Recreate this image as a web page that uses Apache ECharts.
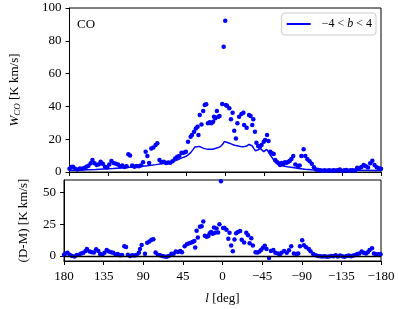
<!DOCTYPE html>
<html><head><meta charset="utf-8">
<script src="https://cdn.jsdelivr.net/npm/echarts@6/dist/echarts.min.js"></script>
<style>html,body{margin:0;padding:0;background:#fff}#c{width:398px;height:309px}</style>
</head><body><div id="c"></div>
<script>
// Top panel: observed W_CO points (longitude, value)
const topLon = [180,178,176,173.5,171,168,165.5,163,160.5,158,155.5,153.5,151,148.5,146,144,141.5,139,136.5,134,131.5,129,126.5,124,121.5,119,116.5,114,112,110,107.5,105,102.5,100,97.5,95,92,90,88,85.5,83,80.5,78.5,76,73.5,71,68.5,66,63.5,61,58,55.5,53,50.5,48,45.5,43,40,38.5,36,34,32,31,29.5,27.5,25.5,23.7,22,20,18,16,14,13,11.5,9.7,8,6.6,3.5,1.8,0,-0.7,-2,-4.7,-6.6,-8.5,-10.4,-12.3,-14,-16,-18.7,-21,-21.8,-24.7,-27.5,-29.3,-31.2,-32.4,-34.3,-36,-38,-40,-42,-44.5,-46,-48.3,-50,-52,-54,-56,-57.7,-59.6,-61.5,-63.4,-65,-67,-69,-71,-73,-74.7,-76.5,-78.6,-81,-84,-86,-88,-90.6,-92.5,-95,-97.5,-100,-102.5,-105,-107.5,-110,-112.5,-115,-117.5,-120,-122.5,-125,-127.5,-130,-132.5,-135,-137.5,-140,-142.5,-145,-147.5,-150,-152.5,-155,-157.5,-160,-162.5,-165,-167.5,-170,-172.5,-175,-177.5,-180];
const topW = [2.0,3.0,3.2,2.0,1.5,2.2,2.0,2.5,3.2,3.8,5.3,7.3,5.3,4.3,4.8,6.3,5.0,3.2,2.8,4.5,6.7,5.5,5.0,4.5,3.5,4.0,3.0,3.5,10.8,10.0,4.0,3.2,3.6,3.5,4.0,6.0,12.4,9.8,5.5,14.4,15.0,16.5,17.5,7.3,6.0,6.3,5.5,5.8,5.7,6.5,8.3,9.3,9.8,11.8,11.8,12.4,18.5,21.5,22.6,24.6,26.6,27.6,22.6,34.8,29.0,37.2,40.9,41.3,29.7,30.3,29.7,30.7,33.7,32.7,37.2,33.7,34.1,41.5,76.4,92.3,40.9,40.4,38.8,32.1,36.2,25.2,20.5,29.7,33.7,35.4,36.2,28.7,27.0,34.8,34.1,28.7,32.1,24.6,17.9,15.8,15.4,16.5,18.5,19.5,22.6,18.9,12.4,11.4,11.0,7.3,6.3,5.3,4.3,5.5,4.9,6.0,5.7,6.3,6.9,8.0,9.8,4.5,3.7,4.0,9.8,13.8,9.8,7.7,6.5,5.0,2.9,1.5,1.2,1.0,0.8,1.0,0.7,1.0,0.8,1.1,0.9,1.0,1.5,0.6,1.0,1.2,0.8,1.1,1.0,0.9,2.6,2.5,3.0,4.3,3.5,2.8,5.3,6.9,4.3,2.9,2.3,2.0];
// Top panel: model line
const modelLon = [180,170,160,150,140,130,120,110,100,90,80,70,60,55,50,45,42.5,40,37.5,35,33,30,27.5,25,22.5,20,17.5,15,12.5,10,7.5,5,2.5,1,0,-2.5,-5,-7.5,-10,-12.5,-15,-17.5,-20,-22.5,-25,-27.5,-29.3,-31,-33,-35,-37.5,-40.5,-42.5,-44.5,-46,-48,-50,-52,-54,-56,-58,-60,-63,-67,-72,-78,-85,-92,-100,-110,-130,-150,-180];
const modelW = [1.0,1.1,1.3,1.5,1.8,2.1,2.5,2.9,3.3,3.8,4.5,5.4,6.6,7.5,8.6,9.6,10.6,11.8,13.5,15.3,15.8,15.6,15.0,14.4,14.1,13.9,13.8,13.9,14.2,14.6,15.0,15.8,17.2,18.6,19.1,18.0,17.5,17.0,16.5,16.1,15.8,15.5,15.4,15.5,15.9,16.8,17.9,16.0,14.4,13.0,13.4,14.4,13.2,12.4,12.8,13.8,12.6,10.4,8.9,7.3,6.0,5.2,4.4,3.7,3.2,2.8,2.2,1.7,1.3,1.1,1.0,1.0,0.9];
// Bottom panel: data minus model
const dmLon = [180,178,176,173.5,171,168,165.5,163,160.5,158,155.5,154,151,148.5,146,143.5,141,139,136.5,134,131.5,129,126.5,124,121.5,119,116.5,114,111.5,109.5,107.5,105,102.5,100,97.5,95,93.7,91.8,88,85.5,83,80.6,78.5,76,73.5,71,68.5,66,63.5,61,58,55.5,53,50.5,48,46,43,40.5,38.5,36,34,32,31,29.4,28,25.7,23.7,21.8,20,18,16,14.5,13,11,9.7,8.5,6.7,5,3.5,1.8,-0.7,-2.2,-4.5,-6.6,-8,-9.8,-11.7,-13.6,-15.5,-17.5,-20,-21.8,-24.5,-27,-29,-30.8,-32.7,-34.5,-37.5,-39.6,-42,-44,-46,-48,-50,-52.8,-55,-57.7,-60,-63,-65,-67,-70,-73,-75.5,-78,-81,-84,-86,-88,-90.5,-92.5,-95,-98,-100,-103,-106,-108.5,-111,-113.5,-116,-118.5,-121,-123.5,-126,-128.5,-131,-133.5,-136,-138.5,-141,-143.5,-146,-148.5,-151,-153,-155.5,-158,-160.5,-163,-165,-167,-169.8,-172,-174.5,-177,-179.5];
const dmW = [1.0,2.0,2.5,1.0,0.0,-0.5,0.7,1.0,2.0,2.5,4.0,5.5,3.5,3.0,2.8,5.3,4.0,1.5,1.0,2.5,4.7,3.5,3.0,2.5,1.2,1.5,0.5,0.8,7.7,7.0,1.0,0.0,0.5,0.3,0.7,2.5,5.5,8.7,1.7,10.5,11.5,12.7,13.2,2.7,1.0,0.5,0.0,-0.5,-0.7,0.0,1.7,1.8,3.5,3.2,4.0,3.0,7.7,9.3,9.8,10.5,11.0,11.8,6.6,20.0,14.6,23.0,23.5,27.3,16.0,15.1,15.8,18.0,19.0,17.5,22.5,18.4,21.7,18.5,25.1,59.0,22.0,22.0,20.6,13.5,18.4,8.2,3.8,13.0,17.9,19.0,19.8,12.7,10.6,18.4,16.3,10.0,14.0,8.2,3.0,2.8,3.5,4.9,6.5,8.0,5.4,-1.7,3.9,4.7,2.5,2.0,0.7,2.5,3.9,2.5,4.5,7.6,2.0,1.5,2.0,7.6,12.3,8.5,6.9,5.5,3.7,1.6,0.5,0.0,-0.3,-0.5,-0.3,-0.7,-0.5,0.0,-0.3,0.5,-0.5,0.3,-0.3,-0.7,0.0,0.3,-0.2,0.3,0.8,1.6,2.0,3.5,2.5,2.0,3.0,4.7,6.0,2.0,1.3,1.3,1.3];
const xTicks = [180,135,90,45,0,-45,-90,-135,-180];
const topYTicks = [0,20,40,60,80,100];
const botYTicks = [0,25,50];

const pair = (a, b) => a.map((v, i) => [v, b[i]]);
const FONT = 'Liberation Serif';
const FS = 13;
const BLUE = '#0000ff';
const fmtMinus = v => (v < 0 ? '\u2212' + Math.abs(v) : String(v));

const chart = echarts.init(document.getElementById('c'), null, {renderer: 'canvas'});
const axisCommon = {
  axisLine: {show: true, onZero: false, lineStyle: {color: '#000', width: 1}},
  axisTick: {show: true, inside: false, length: 4, lineStyle: {color: '#000', width: 1}},
  splitLine: {show: false}
};
chart.setOption({
  animation: false,
  textStyle: {fontFamily: FONT},
  title: {text: 'CO', left: 72, top: 13, textStyle: {fontFamily: FONT, fontSize: FS, fontWeight: 'normal', color: '#000'}},
  legend: {
    data: [{name: 'model', icon: 'rect'}], right: 22, top: 13, orient: 'horizontal',
    itemWidth: 24, itemHeight: 2, itemGap: 4,
    padding: [5, 4, 5, 5], borderColor: '#cccccc', borderWidth: 1, borderRadius: 3, backgroundColor: '#fff',
    formatter: () => '{n|\u22124 < }{i|b}{n| < 4}',
    textStyle: {fontFamily: FONT, fontSize: 12, color: '#000', padding: [0, 0, 0, 6], rich: {n: {fontFamily: FONT, fontSize: 12}, i: {fontFamily: FONT, fontSize: 12, fontStyle: 'italic'}}}
  },
  grid: [
    {left: 64, right: 17, top: 8, height: 164, show: true, borderColor: '#000', borderWidth: 1, containLabel: false},
    {left: 64, right: 17, top: 180, height: 81, show: true, borderColor: '#000', borderWidth: 1, containLabel: false}
  ],
  xAxis: [
    Object.assign({}, axisCommon, {type: 'value', gridIndex: 0, min: -180, max: 180, interval: 45, inverse: true,
      axisLabel: {show: false}}),
    Object.assign({}, axisCommon, {type: 'value', gridIndex: 1, min: -180, max: 180, interval: 45, inverse: true,
      axisLabel: {color: '#000', fontFamily: FONT, fontSize: FS, margin: 9, formatter: fmtMinus},
      name: '{i|l} [deg]', nameLocation: 'middle', nameGap: 31,
      nameTextStyle: {color: '#000', fontFamily: FONT, fontSize: FS, rich: {i: {fontFamily: FONT, fontSize: FS, fontStyle: 'italic'}}}})
  ],
  yAxis: [
    Object.assign({}, axisCommon, {type: 'value', gridIndex: 0, min: 0, max: 100, interval: 20,
      axisLabel: {color: '#000', fontFamily: FONT, fontSize: FS, margin: 8},
      name: '{i|W}{s|CO} [K km/s]', nameLocation: 'middle', nameGap: 47,
      nameTextStyle: {color: '#000', fontFamily: FONT, fontSize: FS, rich: {
        i: {fontFamily: FONT, fontSize: FS, fontStyle: 'italic'},
        s: {fontFamily: FONT, fontSize: 9, fontStyle: 'italic', padding: [7, 0, 0, 0]}}}}),
    Object.assign({}, axisCommon, {type: 'value', gridIndex: 1, min: -4, max: 60,
      axisTick: {show: true, length: 4, customValues: botYTicks, lineStyle: {color: '#000'}},
      axisLabel: {color: '#000', fontFamily: FONT, fontSize: FS, margin: 8, customValues: botYTicks},
      name: '(D-M) [K km/s]', nameLocation: 'middle', nameGap: 34,
      nameTextStyle: {color: '#000', fontFamily: FONT, fontSize: FS}})
  ],
  series: [
    {type: 'scatter', name: 'data', xAxisIndex: 0, yAxisIndex: 0, data: pair(topLon, topW),
      symbolSize: 4.5, itemStyle: {color: BLUE, opacity: 1}, clip: true},
    {type: 'line', name: 'model', xAxisIndex: 0, yAxisIndex: 0, data: pair(modelLon, modelW),
      showSymbol: false, symbol: 'none', lineStyle: {color: BLUE, width: 1.5}, itemStyle: {color: BLUE}},
    {type: 'scatter', name: 'dm', xAxisIndex: 1, yAxisIndex: 1, data: pair(dmLon, dmW),
      symbolSize: 4.5, itemStyle: {color: BLUE, opacity: 1}, clip: true,
      markLine: {silent: true, symbol: 'none', label: {show: false},
        lineStyle: {color: '#000', width: 1.3, type: 'solid'}, data: [{yAxis: 0}]}}
  ]
});
</script></body></html>
